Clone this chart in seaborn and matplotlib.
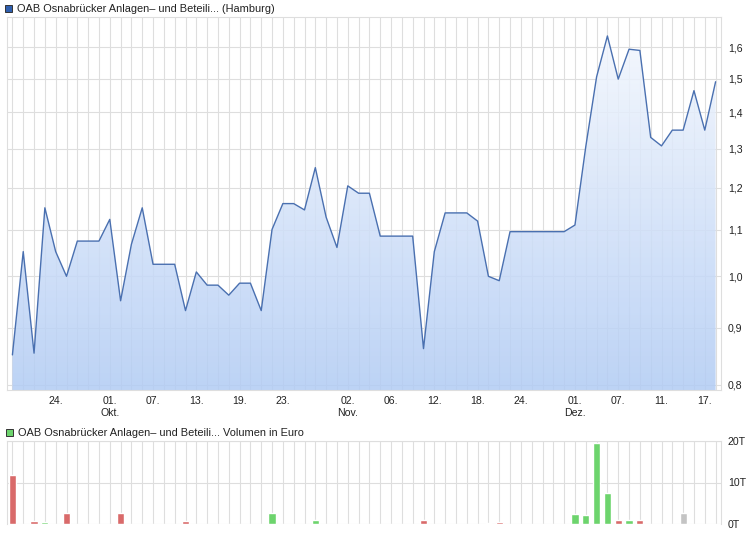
import numpy as np
import pandas as pd
import matplotlib
matplotlib.use("Agg")
import matplotlib.pyplot as plt
from matplotlib.patches import Rectangle
from matplotlib.colors import LinearSegmentedColormap
import seaborn as sns

# ---------------- data ----------------
dates = pd.bdate_range("2009-09-18", "2009-12-18")
price = [0.851, 1.052, 0.854, 1.151, 1.052, 1.000, 1.075, 1.075, 1.075, 1.124,
         0.951, 1.068, 1.151, 1.025, 1.025, 1.025, 0.932, 1.009, 0.982, 0.982,
         0.962, 0.986, 0.986, 0.932, 1.101, 1.161, 1.161, 1.146, 1.250, 1.129,
         1.061, 1.204, 1.186, 1.186, 1.086, 1.086, 1.086, 1.086, 0.862, 1.052,
         1.139, 1.139, 1.139, 1.120, 1.000, 0.991, 1.096, 1.096, 1.096, 1.096,
         1.096, 1.096, 1.111, 1.305, 1.506, 1.638, 1.499, 1.594, 1.590, 1.330,
         1.307, 1.350, 1.350, 1.464, 1.350, 1.491]
volume_t = [11.8, 0, 0.65, 0.4, 0, 2.7, 0, 0, 0, 0,
            2.7, 0, 0, 0, 0, 0, 0.65, 0, 0, 0,
            0, 0, 0, 0, 2.7, 0, 0, 0, 1.0, 0,
            0, 0, 0, 0, 0, 0, 0, 0, 1.0, 0,
            0, 0, 0, 0, 0.25, 0.45, 0, 0, 0, 0,
            0, 0, 2.4, 2.2, 19.6, 7.5, 1.0, 1.0, 1.0, 0,
            0, 0, 2.7, 0, 0, 0]
tick_dates = ["2009-09-24", "2009-10-01", "2009-10-07", "2009-10-13", "2009-10-19",
              "2009-10-23", "2009-11-02", "2009-11-06", "2009-11-12", "2009-11-18",
              "2009-11-24", "2009-12-01", "2009-12-07", "2009-12-11", "2009-12-17"]
month_names = {10: "Okt.", 11: "Nov.", 12: "Dez."}
price_ticks = [0.8, 0.9, 1.0, 1.1, 1.2, 1.3, 1.4, 1.5, 1.6]
vol_ticks = [0, 10, 20]
title_price = "OAB Osnabrücker Anlagen\u2013 und Beteili... (Hamburg)"
title_vol = "OAB Osnabrücker Anlagen\u2013 und Beteili... Volumen in Euro"

# ---------------- style ----------------
sns.set_theme(style="white")
plt.rcParams["font.family"] = ["Liberation Sans", "DejaVu Sans"]
FS = 7.6
GRID = "#dedede"
LINE = "#4a70b0"
RED, GREEN, GRAY = "#d96a6a", "#6dd46d", "#c4c4c4"

W, H = 751, 547
fig = plt.figure(figsize=(W / 100, H / 100), dpi=100)
fig.patch.set_facecolor("white")

def ax_rect(x0, y0, x1, y1):
    return [x0 / W, 1 - y1 / H, (x1 - x0) / W, (y1 - y0) / H]

n = len(price)
idx = np.arange(n)
df = pd.DataFrame({"idx": idx, "price": price, "vol": volume_t, "date": dates})
chg = np.diff(np.asarray(price), prepend=np.inf)
df["dir"] = np.where(chg > 1e-9, "up", np.where(chg < -1e-9, "down", "flat"))

# ---------------- price panel ----------------
ax = fig.add_axes(ax_rect(7, 17, 721, 390))
ymin, ymax = 0.7918, 1.703
ax.set_yscale("log")
ax.set_xlim(-0.5, n - 0.5)
ax.set_ylim(ymin, ymax)

cmap = LinearSegmentedColormap.from_list("g", ["#b2ccf4", "#f6f9fe"])
grad = np.linspace(0, 1, 256).reshape(-1, 1)
poly = ax.fill_between(df["idx"], df["price"], ymin, color="none", lw=0)
im = ax.imshow(grad, extent=(0, 1, 0, 1), transform=ax.transAxes, origin="lower",
               cmap=cmap, aspect="auto", alpha=0.86, zorder=1)
im.set_clip_path(poly.get_paths()[0], transform=ax.transData)
sns.lineplot(data=df, x="idx", y="price", ax=ax, color=LINE, lw=1.0, zorder=3)

ax.set_xticks(idx, minor=False)
pos_map = {d: i for i, d in enumerate(dates)}
labels = [""] * n
for d in tick_dates:
    t = pd.Timestamp(d)
    lab = t.strftime("%d.")
    if t.day <= 2 and t.month in month_names:
        lab += "\n" + month_names[t.month]
    labels[pos_map[t]] = lab
ax.set_xticklabels(labels, fontsize=FS, color="#222222", linespacing=1.25)
ax.set_yticks(price_ticks)
ax.set_yticklabels([f"{v:.1f}".replace(".", ",") for v in price_ticks],
                   fontsize=FS, color="#222222")
ax.yaxis.set_minor_locator(matplotlib.ticker.NullLocator())
ax.yaxis.tick_right()
ax.tick_params(axis="both", length=0)
ax.tick_params(axis="y", pad=5)
ax.tick_params(axis="x", pad=4)
ax.grid(True, color=GRID, lw=0.8, zorder=0)
ax.set_axisbelow(True)
ax.set_xlabel("")
ax.set_ylabel("")
for s in ax.spines.values():
    s.set_color(GRID)
    s.set_linewidth(0.8)

# ---------------- volume panel ----------------
axv = fig.add_axes(ax_rect(7, 441, 721, 524))
sns.barplot(data=df, x="idx", y="vol", hue="dir", ax=axv, order=list(idx),
            palette={"up": GREEN, "down": RED, "flat": GRAY}, dodge=False,
            width=0.66, legend=False, saturation=1, zorder=3)
axv.set_xlim(-0.5, n - 0.5)
axv.set_ylim(0, 20)
axv.set_xticks(idx)
axv.set_xticklabels([])
axv.set_yticks(vol_ticks)
axv.set_yticklabels([f"{v}T" for v in vol_ticks], fontsize=FS, color="#222222")
axv.yaxis.tick_right()
axv.tick_params(axis="both", length=0)
axv.tick_params(axis="y", pad=5)
axv.grid(True, color=GRID, lw=0.8, zorder=0)
axv.set_axisbelow(True)
axv.set_xlabel("")
axv.set_ylabel("")
for s in axv.spines.values():
    s.set_color(GRID)
    s.set_linewidth(0.8)
axv.spines["bottom"].set_visible(False)

# ---------------- legends ----------------
def legend_box(x, y, color, text):
    fig.patches.append(Rectangle((x / W, 1 - (y + 7) / H), 7 / W, 7 / H,
                                 transform=fig.transFigure, facecolor=color,
                                 edgecolor="#333333", lw=0.7))
    fig.text((x + 12) / W, 1 - (y + 3.5) / H, text, fontsize=7.9, va="center",
             ha="left", color="#222222")

legend_box(5, 5, "#2f5fae", title_price)
legend_box(6, 429, GREEN, title_vol)

fig.savefig("out.png", dpi=100, facecolor="white")
